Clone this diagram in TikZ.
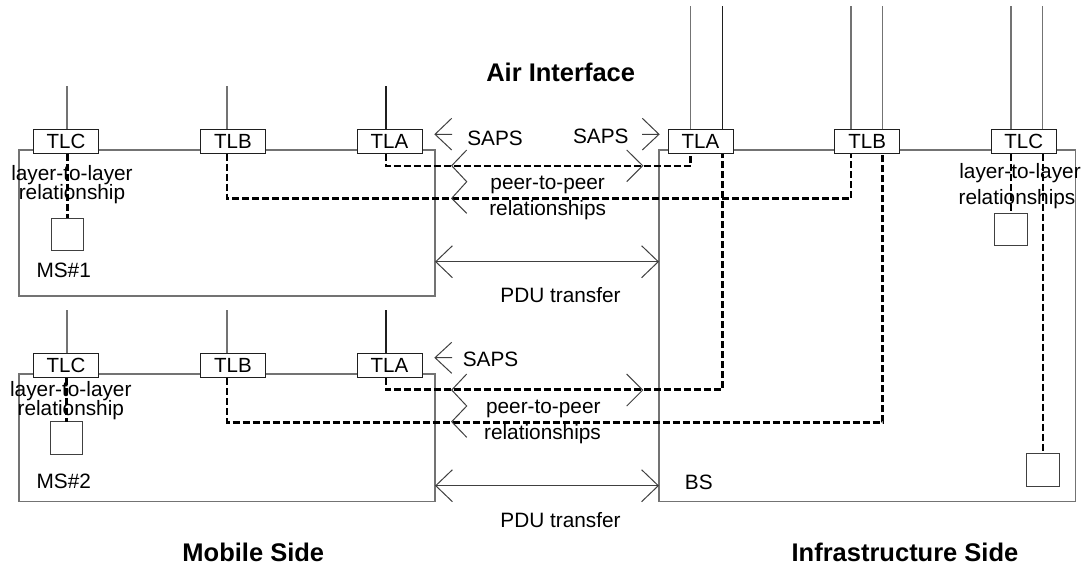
\documentclass[tikz,border=0pt]{standalone}
\usepackage{fontspec}
\setmainfont{Liberation Sans}
\usetikzlibrary{calc,arrows.meta}
\definecolor{frm}{gray}{0.45}
\definecolor{chc}{gray}{0.25}
\definecolor{tlc}{gray}{0.12}
\newcommand\ftxt{\fontsize{20.8pt}{22pt}\selectfont}
\newcommand\ftlx{\fontsize{20.5pt}{22pt}\selectfont}
\newcommand\fttl{\bfseries\fontsize{25.5pt}{27pt}\selectfont}
\begin{document}
\begin{tikzpicture}[x=1pt,y=-1pt,
  frame/.style={draw=frm,line width=1.3pt,inner sep=0,outer sep=0},
  tl/.style={draw=tlc,line width=0.9pt,fill=white,minimum width=65pt,minimum height=24.5pt,inner sep=0,outer sep=0,font=\ftlx},
  sq/.style={draw=chc,line width=1pt,fill=white,minimum size=32.5pt,inner sep=0,outer sep=0},
  rel/.style={draw=black,line width=2.6pt,dash pattern=on 7pt off 3pt},
  wire/.style={draw=frm,line width=1.2pt},
  chev/.style={draw=chc,line width=1pt},
  pdu/.style={chev,{Straight Barb[length=16.7pt,width=32pt]}-{Straight Barb[length=16.7pt,width=32pt]}},
  txt/.style={inner sep=0,anchor=base,font=\ftxt},
  ttl/.style={inner sep=0,anchor=base,font=\fttl}]
\useasboundingbox (0,0) rectangle (1083,567);

% frames
\node[frame,minimum width=416pt,minimum height=146pt] (ms1) at (227,223) {};
\node[frame,minimum width=416pt,minimum height=127.7pt] (ms2) at (227,437.85) {};
\node[frame,minimum width=416.7pt,minimum height=351.7pt] (bs) at (867.35,325.85) {};

% TL boxes
\node[tl] (m1c) at (66,141.3) {TLC};
\node[tl] (m1b) at (233,141.3) {TLB};
\node[tl] (m1a) at (389.5,141.3) {TLA};
\node[tl] (m2c) at (66,365.5) {TLC};
\node[tl] (m2b) at (233,365.5) {TLB};
\node[tl] (m2a) at (389.5,365.5) {TLA};
\node[tl] (ba) at (700.5,141.5) {TLA};
\node[tl] (bb) at (867.2,141.5) {TLB};
\node[tl] (bc) at (1023.8,141.5) {TLC};

% squares
\node[sq] (s1) at (67.5,234.5) {};
\node[sq] (s2) at (66.5,438) {};
\node[sq] (t1) at (1010.8,229.5) {};
\node[sq] (t2) at (1043,470) {};

% upper wires
\draw[wire] ($(m1c.north)+(1,0)$) -- ++(0,-43);
\draw[wire] ($(m1b.north)+(-6,0)$) -- ++(0,-43);
\draw[wire,draw=tlc] ($(m1a.north)+(-3.5,0)$) -- ++(0,-43);
\draw[wire] ($(m2c.north)+(1,0)$) -- ++(0,-43);
\draw[wire] ($(m2b.north)+(-6,0)$) -- ++(0,-43);
\draw[wire,draw=tlc] ($(m2a.north)+(-3.5,0)$) -- ++(0,-43);
\draw[wire] ($(ba.north)+(-9.8,0)$) -- ++(0,-123);
\draw[wire,draw=tlc] ($(ba.north)+(21.8,0)$) -- ++(0,-123);
\draw[wire] ($(bb.north)+(-16.2,0)$) -- ++(0,-123);
\draw[wire] ($(bb.north)+(15.5,0)$) -- ++(0,-123);
\draw[wire] ($(bc.north)+(-12.8,0)$) -- ++(0,-123);
\draw[wire] ($(bc.north)+(18.9,0)$) -- ++(0,-123);

% relationships (dashed)
\draw[rel] ($(m1a.south)+(-3.5,0)$) -- ++(0,12.5) -| ($(ba.south)+(-9.8,0)$);
\draw[rel] ($(m1b.south)+(-6,0)$) -- ++(0,45) -| ($(bb.south)+(-16.2,0)$);
\draw[rel] ($(m2a.south)+(-3.5,0)$) -- ++(0,12) -| ($(ba.south)+(21.8,0)$);
\draw[rel] ($(m2b.south)+(-6,0)$) -- ++(0,44.5) -| ($(bb.south)+(15.5,0)$);
\draw[rel] (m1c.south -| s1.north) -- (s1.north);
\draw[rel] (m2c.south -| s2.north) -- (s2.north);
\draw[rel] (bc.south -| t1.north) -- (t1.north);
\draw[rel] (bc.south -| t2.north) -- (t2.north);

% SAPS arrows
\draw[chev] (451.7,118.3) -- (435,134.3) -- (451.7,150) (435,134.3) -- (452,134.3);
\draw[chev] (642.3,118.3) -- (659,134.3) -- (642.3,150) (659,134.3) -- (642,134.3);
\draw[chev] (451.7,342.3) -- (435,357.7) -- (451.7,373.3) (435,357.7) -- (452,357.7);

% peer-to-peer chevrons
\draw[chev] (466.7,150) -- (451.7,165.7) -- (466.7,181.7) -- (451.7,198.3) -- (466.7,213.3);
\draw[chev] (626.7,150) -- (642.7,165.7) -- (626.7,181.7);
\draw[chev] (466.7,374) -- (451.7,390) -- (466.7,406) -- (451.7,421.7) -- (466.7,437.3);
\draw[chev] (626.7,374) -- (642.7,390) -- (626.7,406);

% PDU transfer
\coordinate (p1) at (0,261.7);
\coordinate (p2) at (0,485.7);
\draw[pdu] (ms1.east |- p1) -- (bs.west |- p1);
\draw[pdu] (ms2.east |- p2) -- (bs.west |- p2);

% texts
\node[ttl] (air) at (560.7,81.7) {Air Interface};
\node[ttl] (mob) at (253.3,561.5) {Mobile Side};
\node[ttl] (inf) at (905,561.5) {Infrastructure Side};
\node[txt] (sa1) at (495,145.7) {SAPS};
\node[txt] (sa2) at (600.8,143.3) {SAPS};
\node[txt] (pp1) at (547.7,189.3) {peer-to-peer};
\node[txt] (pr1) at (547.7,215) {relationships};
\node[txt] (pd1) at (560.5,302.3) {PDU transfer};
\node[txt] (ll1) at (72,180.7) {layer-to-layer};
\node[txt] (lr1) at (72,199) {relationship};
\node[txt] (ms1l) at (63.7,277.3) {MS\#1};
\node[txt] (sa3) at (490.5,366.7) {SAPS};
\node[txt] (pp2) at (543.3,413.3) {peer-to-peer};
\node[txt] (pr2) at (542.5,439.3) {relationships};
\node[txt] (pd2) at (560.5,527.3) {PDU transfer};
\node[txt] (ll2) at (70.8,396.7) {layer-to-layer};
\node[txt] (lr2) at (70.8,415.7) {relationship};
\node[txt] (ms2l) at (63.8,488.3) {MS\#2};
\node[txt] (bsl) at (698.8,489.3) {BS};
\node[txt] (ll3) at (1020,178.3) {layer-to-layer};
\node[txt] (lr3) at (1017,204) {relationships};
\end{tikzpicture}
\end{document}
